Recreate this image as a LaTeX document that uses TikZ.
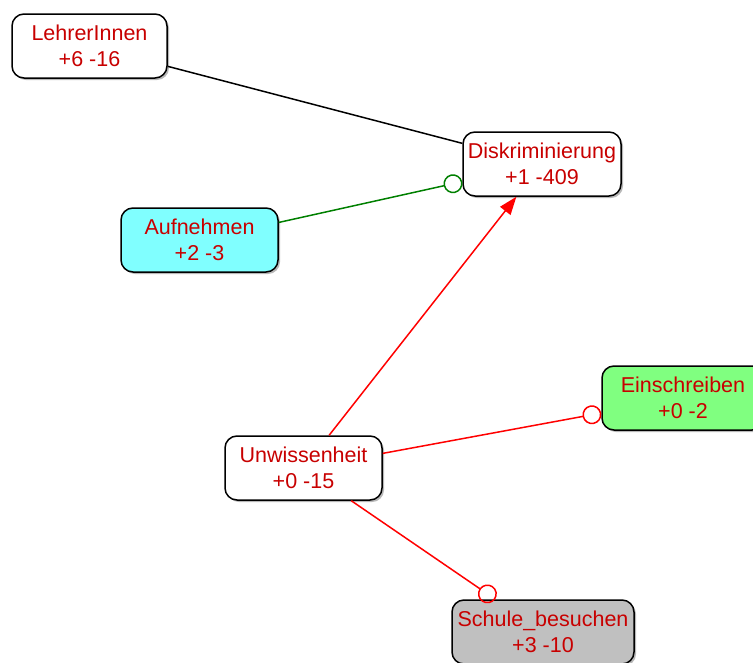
\documentclass[tikz,border=0pt]{standalone}
\usepackage{fontspec}
\setmainfont{Liberation Sans}
\usetikzlibrary{arrows.meta}
\definecolor{labelred}{HTML}{C80000}
\definecolor{cyanfill}{HTML}{80FFFF}
\definecolor{greenfill}{HTML}{80FF80}
\definecolor{grayfill}{HTML}{C0C0C0}
\definecolor{linkgreen}{HTML}{008000}
\definecolor{linkred}{HTML}{FF0000}
\tikzset{
  concept/.style={draw=black, line width=1.5pt, rounded corners=12pt,
    fill=white, inner sep=0pt, align=center, text=labelred,
    font=\fontsize{21.5}{26}\selectfont, minimum height=64pt},
  shade box/.style={fill=black!28, rounded corners=12pt, draw=none},
  link/.style={line width=1.5pt},
  opencirc/.style={-{Circle[open, length=19pt, width=19pt, line width=1.5pt]}},
  solidtip/.style={-{Triangle[length=18pt, width=13pt]}}
}
\begin{document}
\begin{tikzpicture}[x=1pt, y=-1pt]
  \clip (0,0) rectangle (753,662);
  \fill[white] (0,0) rectangle (753,662);

  % soft shadows beneath the boxes
  \foreach \cx/\cy/\w in {89.5/46/155, 542/164/158, 199.5/240/157, 683/398/162, 303.5/468/157, 543/632/182}{
    \fill[shade box] (\cx-\w/2+2, \cy-32+2) rectangle (\cx+\w/2+2, \cy+32+2);
  }

  \node[concept, minimum width=155pt] (lehrer) at (89.5,46) {LehrerInnen\\+6 -16};
  \node[concept, minimum width=158pt] (diskr) at (542,164) {Diskriminierung\\+1 -409};
  \node[concept, minimum width=157pt, fill=cyanfill] (aufn) at (199.5,240) {Aufnehmen\\+2 -3};
  \node[concept, minimum width=162pt, fill=greenfill] (einschr) at (683,398) {Einschreiben\\+0 -2};
  \node[concept, minimum width=157pt] (unwiss) at (303.5,468) {Unwissenheit\\+0 -15};
  \node[concept, minimum width=182pt, fill=grayfill] (schule) at (543,632) {Schule\_besuchen\\+3 -10};

  \draw[link, black] (lehrer) -- (diskr);
  \draw[link, linkgreen, opencirc] (aufn) -- (diskr);
  \draw[link, linkred, solidtip] (unwiss) -- (diskr);
  \draw[link, linkred, opencirc] (unwiss) -- (einschr);
  \draw[link, linkred, opencirc] (unwiss) -- (schule);
\end{tikzpicture}
\end{document}
